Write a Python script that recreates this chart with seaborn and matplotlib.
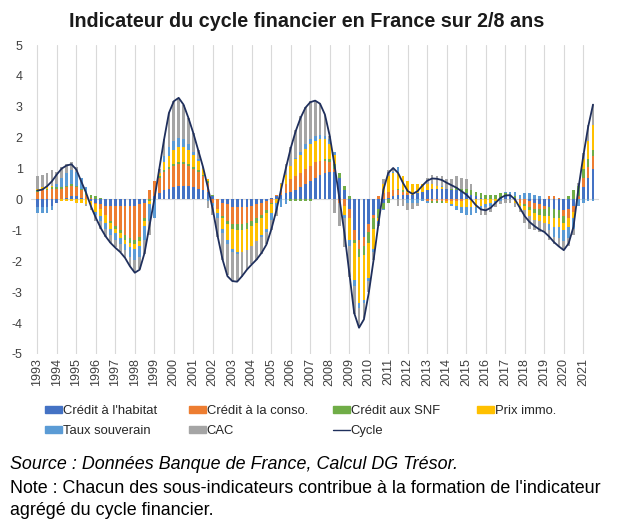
import numpy as np
import matplotlib
matplotlib.use("Agg")
import matplotlib.pyplot as plt
from matplotlib.patches import Patch
from matplotlib.lines import Line2D
import seaborn as sns

# Données trimestrielles 1993T1 - 2021T3
years = list(range(1993, 2022))

cycle = [0.29, 0.32, 0.43, 0.59,  0.81, 1.00, 1.10, 1.14,  0.97, 0.59, 0.22, -0.22,
         -0.59, -0.92, -1.19, -1.40,  -1.56, -1.70, -1.89, -2.16,  -2.37, -2.27, -1.73, -0.86,
         0.00, 0.97, 1.94, 2.80,  3.18, 3.29, 3.07, 2.64,  2.15, 1.60, 1.05, 0.38,
         -0.32, -1.19, -1.94, -2.48,  -2.64, -2.66, -2.48, -2.27,  -2.10, -1.94, -1.73, -1.46,
         -0.97, -0.38, 0.32, 1.02,  1.67, 2.21, 2.64, 2.97,  3.15, 3.20, 3.10, 2.75,
         2.05, 1.08, 0.00, -1.08,  -2.37, -3.67, -4.15, -3.88,  -3.02, -1.94, -0.76, 0.32,
         0.86, 1.02, 0.86, 0.54,  0.27, 0.18, 0.27, 0.45,  0.61, 0.68, 0.67, 0.63,
         0.54, 0.46, 0.38, 0.27,  0.16, 0.00, -0.19, -0.32,  -0.35, -0.27, -0.11, 0.05,
         0.13, 0.14, 0.00, -0.27,  -0.54, -0.73, -0.86, -0.97,  -1.05, -1.20, -1.38, -1.52,
         -1.64, -1.42, -0.88, 0.35,  1.40, 2.35, 3.07]

credit_habitat = [-0.25, -0.25, -0.25, -0.20,  -0.10, 0.00, 0.05, 0.10,  0.10, 0.05, 0.00, -0.05,
                  -0.10, -0.15, -0.20, -0.20,  -0.20, -0.20, -0.20, -0.20,  -0.20, -0.15, -0.10, 0.00,
                  0.10, 0.20, 0.30, 0.35,  0.40, 0.45, 0.45, 0.45,  0.40, 0.35, 0.30, 0.25,
                  0.10, 0.00, -0.10, -0.15,  -0.25, -0.25, -0.25, -0.25,  -0.20, -0.15, -0.10, -0.05,
                  0.05, 0.10, 0.15, 0.20,  0.25, 0.30, 0.40, 0.50,  0.60, 0.70, 0.80, 0.85,
                  0.90, 0.90, 0.70, 0.30,  -0.30, -1.00, -1.30, -1.20,  -0.80, -0.50, -0.30, -0.10,
                  0.05, 0.10, 0.15, 0.15,  0.15, 0.15, 0.20, 0.25,  0.30, 0.35, 0.35, 0.35,
                  0.35, 0.30, 0.30, 0.25,  0.20, 0.15, 0.10, 0.05,  0.00, 0.00, 0.00, 0.05,
                  0.10, 0.10, 0.05, 0.00,  0.00, -0.05, -0.10, -0.15,  -0.20, -0.25, -0.30, -0.35,
                  -0.35, -0.30, -0.20, 0.00,  0.40, 0.70, 1.00]

credit_conso = [0.25, 0.30, 0.30, 0.35,  0.35, 0.35, 0.35, 0.35,  0.30, 0.25, 0.15, 0.05,
                -0.05, -0.15, -0.30, -0.50,  -0.65, -0.80, -0.95, -1.05,  -1.10, -1.05, -0.50, 0.30,
                0.50, 0.50, 0.60, 0.65,  0.70, 0.70, 0.70, 0.65,  0.60, 0.55, 0.45, 0.30,
                -0.10, -0.30, -0.45, -0.55,  -0.55, -0.55, -0.55, -0.50,  -0.50, -0.45, -0.40, -0.30,
                -0.10, 0.05, 0.20, 0.30,  0.40, 0.45, 0.45, 0.50,  0.50, 0.50, 0.45, 0.40,
                0.30, 0.10, -0.10, -0.20,  -0.30, -0.30, -0.30, -0.30,  -0.25, -0.10, 0.10, 0.20,
                0.20, 0.20, 0.15, 0.10,  0.05, 0.00, 0.00, 0.00,  -0.05, -0.05, -0.05, -0.05,
                -0.05, -0.05, -0.05, -0.05,  0.00, 0.00, 0.00, 0.00,  0.00, 0.00, 0.00, 0.00,
                0.00, 0.00, -0.05, -0.10,  -0.15, -0.20, -0.20, -0.15,  -0.10, 0.10, 0.10, 0.05,
                -0.20, -0.30, -0.20, 0.10,  0.30, 0.35, 0.40]

credit_snf = [0.05, 0.05, 0.05, 0.05,  0.05, 0.05, 0.05, 0.05,  0.05, 0.05, 0.05, 0.10,
              0.10, 0.05, 0.00, -0.05,  -0.10, -0.10, -0.15, -0.15,  -0.15, -0.15, -0.10, -0.05,
              0.00, 0.05, 0.05, 0.05,  0.05, 0.05, 0.05, 0.05,  0.05, 0.05, 0.05, 0.05,
              0.05, 0.00, -0.05, -0.10,  -0.15, -0.20, -0.20, -0.20,  -0.15, -0.15, -0.10, -0.10,
              -0.05, 0.00, 0.00, 0.00,  -0.05, -0.05, -0.05, -0.05,  -0.05, 0.00, 0.00, 0.05,
              0.10, 0.15, 0.15, 0.15,  0.10, -0.10, -0.25, -0.30,  -0.35, -0.35, -0.30, -0.20,
              -0.10, 0.00, 0.05, 0.05,  0.00, 0.00, 0.00, 0.00,  0.00, -0.05, -0.05, -0.05,
              0.00, 0.05, 0.10, 0.10,  0.15, 0.15, 0.15, 0.15,  0.15, 0.15, 0.15, 0.15,
              0.10, 0.05, 0.05, 0.00,  -0.05, -0.10, -0.15, -0.20,  -0.25, -0.30, -0.30, -0.25,
              -0.20, 0.10, 0.30, 0.35,  0.30, 0.25, 0.20]

prix_immo = [0.05, 0.05, 0.05, 0.05,  0.00, -0.05, -0.05, -0.05,  -0.10, -0.10, -0.15, -0.20,
             -0.25, -0.25, -0.25, -0.20,  -0.15, -0.15, -0.15, -0.15,  -0.15, -0.15, -0.15, -0.10,
             0.00, 0.10, 0.25, 0.35,  0.45, 0.50, 0.50, 0.45,  0.40, 0.30, 0.20, 0.05,
             0.00, -0.15, -0.35, -0.50,  -0.65, -0.70, -0.70, -0.70,  -0.65, -0.60, -0.55, -0.50,
             -0.30, -0.10, 0.15, 0.30,  0.45, 0.55, 0.60, 0.65,  0.70, 0.70, 0.70, 0.65,
             0.50, 0.30, 0.00, -0.30,  -0.70, -1.20, -1.50, -1.45,  -1.15, -0.65, -0.10, 0.30,
             0.50, 0.55, 0.55, 0.45,  0.40, 0.35, 0.30, 0.25,  0.20, 0.15, 0.10, 0.05,
             -0.05, -0.10, -0.15, -0.20,  -0.25, -0.25, -0.25, -0.20,  -0.15, -0.10, -0.05, 0.00,
             0.00, 0.00, -0.05, -0.10,  -0.15, -0.20, -0.20, -0.20,  -0.20, -0.25, -0.30, -0.30,
             -0.25, -0.30, -0.20, 0.00,  0.30, 0.60, 0.80]

taux_souverain = [-0.20, -0.20, -0.20, -0.15,  0.10, 0.30, 0.40, 0.45,  0.45, 0.35, 0.20, 0.00,
                  -0.10, -0.15, -0.20, -0.20,  -0.20, -0.20, -0.20, -0.30,  -0.35, -0.35, -0.45, -0.55,
                  -0.60, 0.00, 0.20, 0.30,  0.30, 0.30, 0.25, 0.20,  0.10, 0.05, 0.00, -0.05,
                  -0.10, -0.15, -0.15, -0.15,  -0.10, -0.05, 0.00, 0.00,  0.00, 0.00, -0.05, -0.10,
                  -0.20, -0.25, -0.25, -0.15,  0.00, 0.05, 0.10, 0.15,  0.15, 0.15, 0.15, 0.10,
                  0.15, 0.10, 0.00, -0.10,  -0.20, -0.20, -0.15, -0.10,  -0.10, -0.10, -0.10, -0.05,
                  0.00, 0.05, 0.15, 0.00,  -0.10, -0.10, -0.10, -0.05,  -0.05, 0.00, 0.00, 0.05,
                  0.00, -0.05, -0.15, -0.20,  -0.25, -0.25, -0.20, -0.15,  -0.10, -0.10, -0.05, -0.05,
                  0.05, 0.10, 0.15, 0.15,  0.20, 0.20, 0.15, 0.10,  0.00, -0.20, -0.30, -0.35,
                  -0.35, -0.35, -0.35, -0.20,  -0.10, -0.05, -0.05]

cac = [0.40, 0.40, 0.45, 0.50,  0.40, 0.35, 0.30, 0.25,  0.15, 0.00, -0.05, -0.10,
       -0.20, -0.25, -0.25, -0.25,  -0.25, -0.25, -0.25, -0.30,  -0.40, -0.40, -0.45, -0.45,
       0.00, 0.15, 0.55, 1.10,  1.30, 1.30, 1.10, 0.85,  0.60, 0.30, 0.05, -0.22,
       -0.30, -0.60, -0.85, -1.00,  -0.95, -0.90, -0.80, -0.60,  -0.60, -0.60, -0.55, -0.40,
       -0.35, -0.20, 0.05, 0.35,  0.60, 0.90, 1.15, 1.20,  1.25, 1.15, 1.00, 0.70,
       0.10, -0.45, -0.75, -0.95,  -1.00, -0.90, -0.65, -0.50,  -0.35, -0.25, -0.05, 0.15,
       0.20, 0.10, -0.20, -0.20,  -0.25, -0.20, -0.10, 0.00,  0.20, 0.30, 0.30, 0.30,
       0.30, 0.30, 0.35, 0.35,  0.30, 0.20, 0.00, -0.15,  -0.25, -0.20, -0.15, -0.10,
       -0.10, -0.10, -0.15, -0.20,  -0.40, -0.40, -0.35, -0.35,  -0.30, -0.30, -0.25, -0.30,
       -0.30, -0.25, -0.20, 0.10,  0.20, 0.50, 0.70]

noms = ["Crédit à l'habitat", "Crédit à la conso.", "Crédit aux SNF",
        "Prix immo.", "Taux souverain", "CAC"]
couleurs = ["#4472C4", "#ED7D31", "#70AD47", "#FFC000", "#5B9BD5", "#A5A5A5"]
series = [credit_habitat, credit_conso, credit_snf, prix_immo, taux_souverain, cac]
couleur_cycle = "#1F2F5C"

sns.set_theme(style="white")
plt.rcParams['font.family'] = ['Liberation Sans', 'DejaVu Sans']

fig = plt.figure(figsize=(6.17, 5.27), dpi=100)
ax = fig.add_axes([0.0502, 0.3283, 0.9212, 0.5863])

# barres empilées (positifs vers le haut, négatifs vers le bas, comme Excel)
x = np.arange(len(cycle))
haut = np.zeros(len(x))
bas = np.zeros(len(x))
for vals, coul in zip(series, couleurs):
    v = np.array(vals)
    ax.bar(x, v, bottom=np.where(v >= 0, haut, bas), width=0.55,
           color=coul, linewidth=0, zorder=2)
    haut += np.clip(v, 0, None)
    bas += np.clip(v, None, 0)

sns.lineplot(x=x, y=cycle, ax=ax, color=couleur_cycle, linewidth=1.3,
             legend=False, zorder=3)

ax.axhline(0, color="#D9D9D9", linewidth=0.8, zorder=1)
ax.set_xlim(-1.3, 115.3)
ax.set_ylim(-5, 5)
ax.set_yticks(range(-5, 6))
ax.set_yticklabels([str(i) for i in range(-5, 6)], fontsize=9)
ax.set_xticks(x[::4])
ax.set_xticklabels([str(a) for a in years], rotation=90, fontsize=9)
ax.tick_params(axis="both", length=0, colors="#404040")
ax.tick_params(axis="y", pad=6)
ax.tick_params(axis="x", pad=3)
ax.grid(axis="x", color="#D9D9D9", linewidth=0.8)
ax.grid(axis="y", visible=False)
ax.set_axisbelow(True)
for s in ax.spines.values():
    s.set_visible(False)
ax.set_xlabel("")
ax.set_ylabel("")

fig.text(0.497, 1 - 26.7 / 527, "Indicateur du cycle financier en France sur 2/8 ans",
         ha="center", va="baseline", fontsize=14.2, fontweight="bold", color="#1a1a1a")

# légende : 4 colonnes de même largeur, remplies par lignes
h = [Patch(color=c) for c in couleurs]
h_cycle = Line2D([0], [0], color=couleur_cycle, linewidth=1.0)
colonnes = [([h[0], h[4]], [noms[0], noms[4]]),
            ([h[1], h[5]], [noms[1], noms[5]]),
            ([h[2], h_cycle], [noms[2], "Cycle"]),
            ([h[3]], [noms[3]])]
for i, (hh, ll) in enumerate(colonnes):
    fig.legend(hh, ll, loc="upper left",
               bbox_to_anchor=((45 + 144 * i) / 617, 1 - 405 / 527),
               frameon=False, fontsize=9.4, handlelength=1.3, handleheight=0.5,
               handletextpad=0.05, labelspacing=0.62, borderpad=0, borderaxespad=0)

fig.text(10 / 617, 1 - 469 / 527, "Source : Données Banque de France, Calcul DG Trésor.",
         ha="left", va="baseline", fontsize=12.9, style="italic", color="#000000")
fig.text(10 / 617, 1 - 493 / 527,
         "Note : Chacun des sous-indicateurs contribue à la formation de l'indicateur",
         ha="left", va="baseline", fontsize=12.9, color="#000000")
fig.text(10 / 617, 1 - 515 / 527, "agrégé du cycle financier.",
         ha="left", va="baseline", fontsize=12.9, color="#000000")

fig.savefig("out.png", dpi=100)
